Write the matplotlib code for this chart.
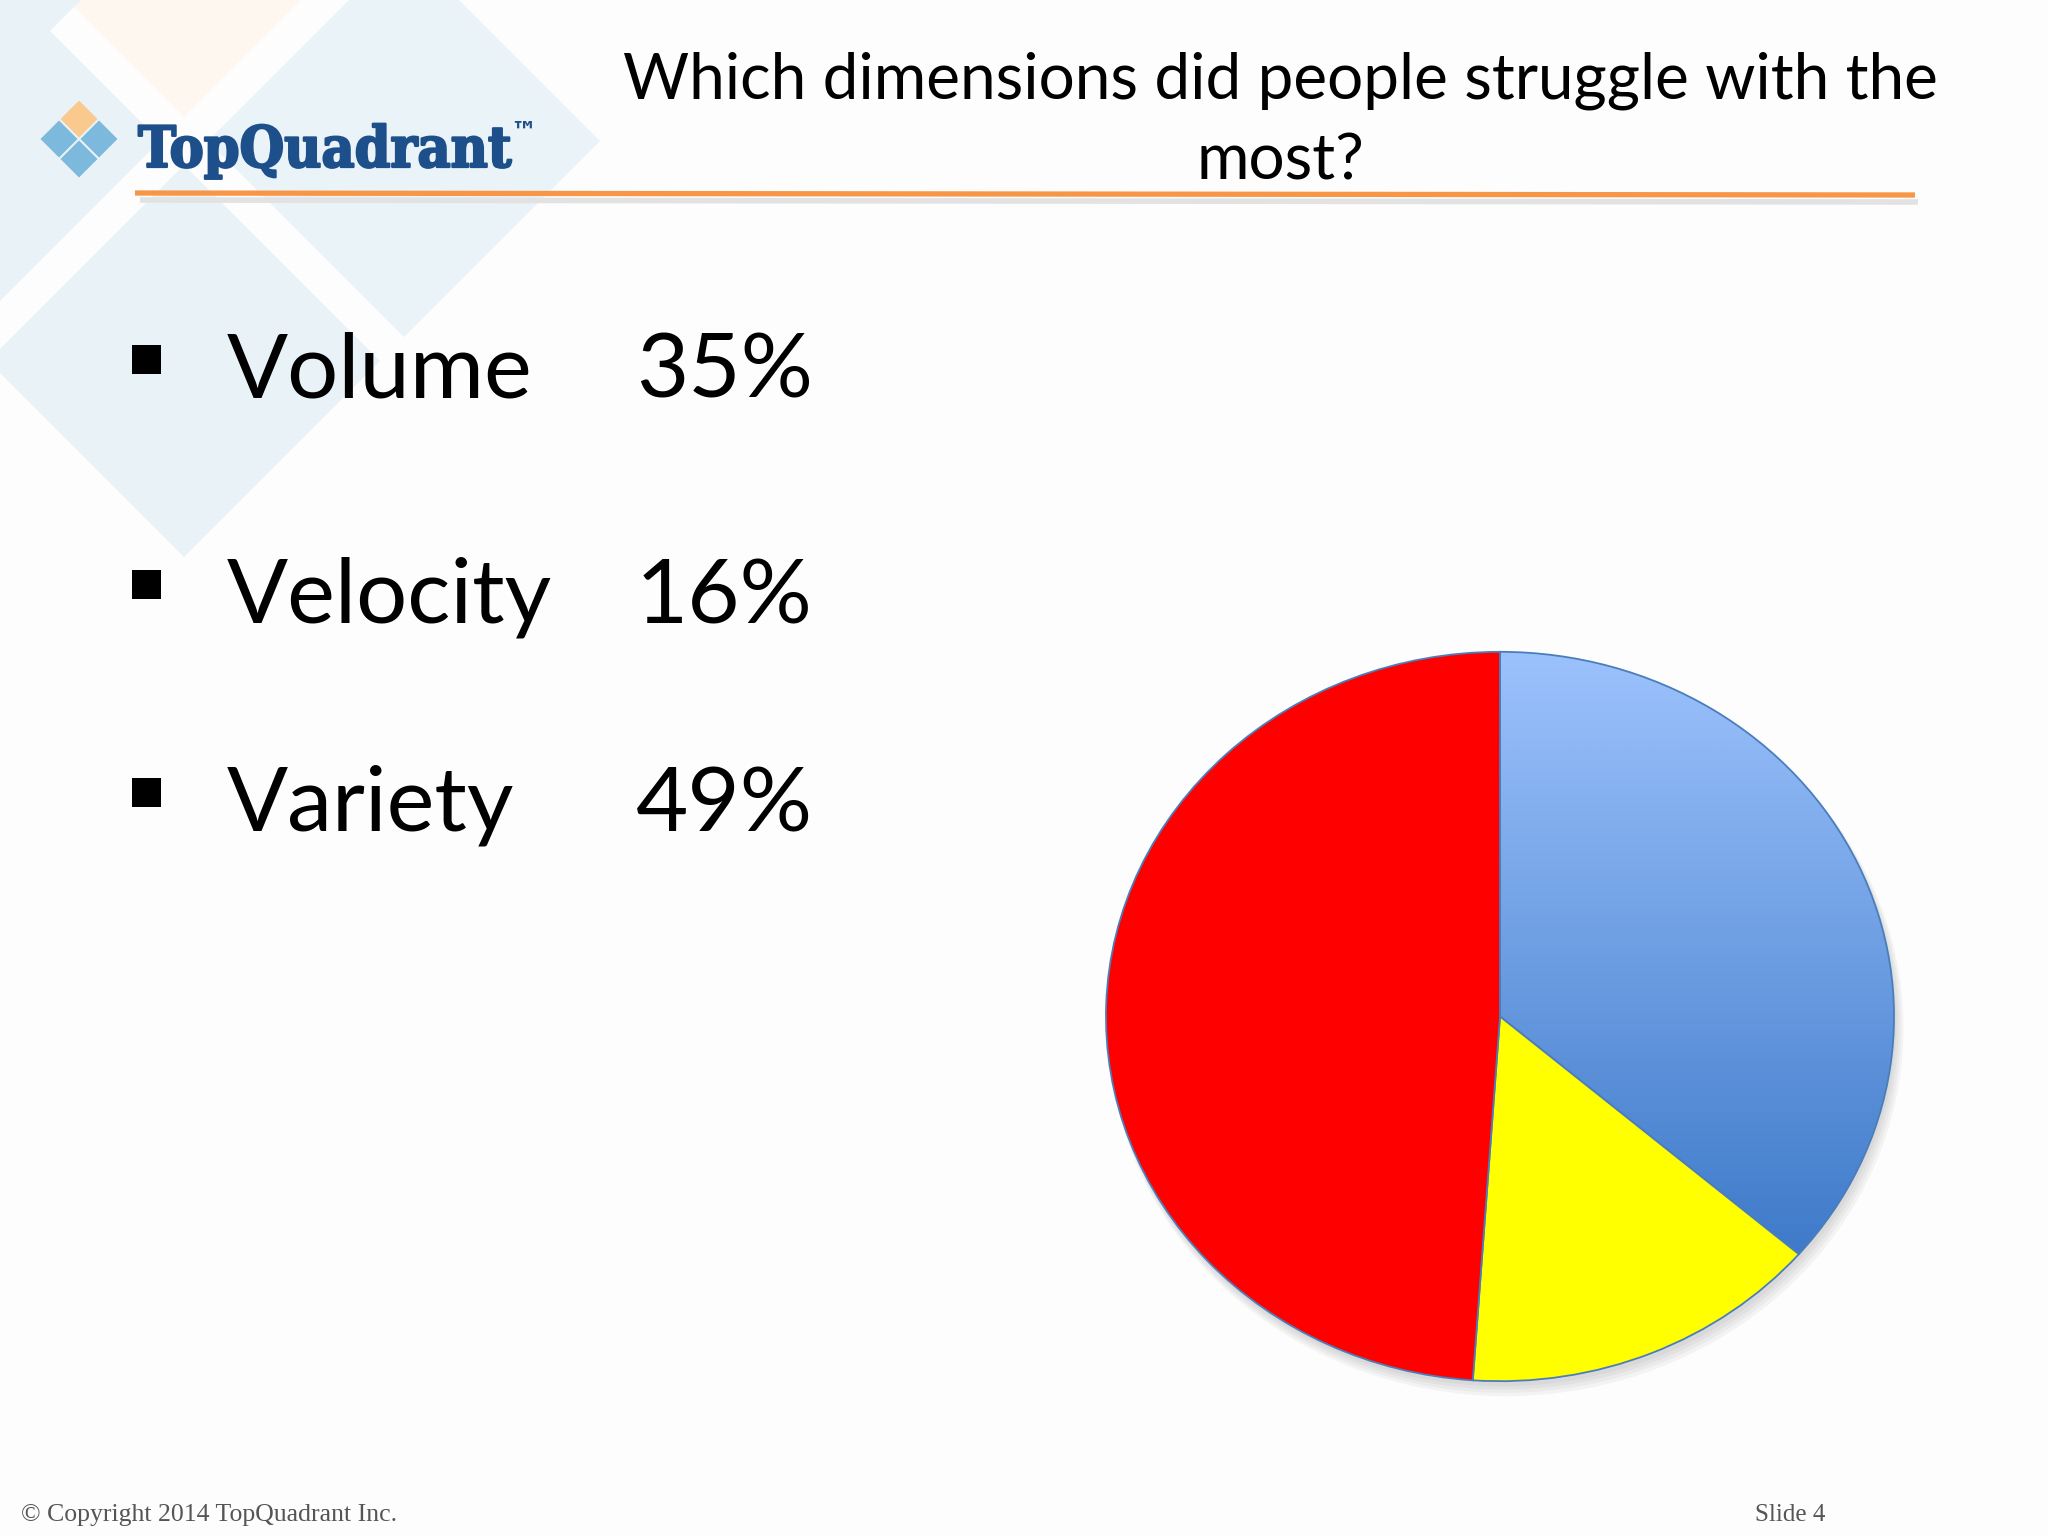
"""Slide 4: which of the three big-data dimensions people struggled with most."""

import matplotlib

matplotlib.use("Agg")
import matplotlib.patheffects as pe
import matplotlib.pyplot as plt
import numpy as np
from matplotlib.colors import LinearSegmentedColormap
from matplotlib.patches import Circle, Polygon, Rectangle

# survey results as listed on the slide
labels = ["Volume", "Velocity", "Variety"]
pct_labels = ["35%", "16%", "49%"]
# slice sizes as drawn in the pie
pie_shares = [36.3, 14.8, 48.9]
colors = ["#6E9BE3", "#FFFF00", "#FF0000"]

title_lines = ["Which dimensions did people struggle with the", "most?"]
footer_left = "\u00a9 Copyright 2014 TopQuadrant Inc."
footer_right = "Slide 4"

W, H = 2048, 1536
fig = plt.figure(figsize=(W / 100, H / 100), dpi=100, facecolor="#FEFDFE")

# full-figure axes in pixel units for the slide decoration
bg = fig.add_axes([0, 0, 1, 1], zorder=0)
bg.set_xlim(0, W)
bg.set_ylim(H, 0)
bg.axis("off")


def diamond(cx, cy, h, **kw):
    return Polygon([(cx, cy - h), (cx + h, cy), (cx, cy + h), (cx - h, cy)], closed=True, **kw)


# faded quadrant motif in the top-left corner
cx, cy, s, h = 184, 141, 220, 196
for dx, dy, col in [(0, -1, "#FDF7EF"), (-1, 0, "#E9F3F7"), (1, 0, "#EAF3F7"), (0, 1, "#E9F3F7"),
                    (-1, -1, "#E9F3F7")]:
    bg.add_patch(diamond(cx + dx * s, cy + dy * s, h, fc=col, ec="none", zorder=0))

# logo
lx, ly, ls = 79, 139, 20
for dx, dy, col in [(0, -1, "#F9C98E"), (-1, 0, "#7DB8DD"), (1, 0, "#7DB8DD"), (0, 1, "#7DB8DD")]:
    bg.add_patch(diamond(lx + dx * ls, ly + dy * ls, ls - 1.5, fc=col, ec="none", zorder=2))
bg.text(138, 167, "TopQuadrant", fontsize=41, fontweight="bold", family="DejaVu Serif",
        fontstretch="condensed", color="#1D4F8B", va="baseline", ha="left", zorder=3,
        path_effects=[pe.withStroke(linewidth=1.6, foreground="#1D4F8B")])
bg.text(510, 140, "\u2122", fontsize=19, family="DejaVu Sans", fontweight="bold",
        color="#1D4F8B", va="baseline", ha="left", zorder=3)

# orange rule under the header
bg.plot([140, 1918], [200, 202], color="#E2E2E2", lw=4, solid_capstyle="butt", zorder=1)
bg.plot([135, 1915], [193, 195], color="#F79646", lw=3.8, solid_capstyle="butt", zorder=2)

for line, yb in zip(title_lines, [98, 180]):
    bg.text(1280, yb, line, fontsize=46, family="Lato", color="black",
            ha="center", va="baseline", zorder=3)

# bullet list
baselines = [398, 623, 831]
for lab, pct, yb in zip(labels, pct_labels, baselines):
    bg.add_patch(Rectangle((132, yb - 53), 29, 29, fc="black", ec="none", zorder=3))
    bg.text(227, yb, lab, fontsize=65, family="Lato", color="black", va="baseline", ha="left")
    bg.text(636, yb, pct, fontsize=65, family="Lato", color="black", va="baseline", ha="left")

bg.text(21, 1521, footer_left, fontsize=18.5, family="Liberation Serif", color="#555555",
        va="baseline", ha="left")
bg.text(1755, 1521, footer_right, fontsize=18, family="Liberation Serif", color="#555555",
        va="baseline", ha="left")

# pie chart
x0, x1, y0, y1 = 1104, 1896, 650, 1383
ax = fig.add_axes([x0 / W, 1 - y1 / H, (x1 - x0) / W, (y1 - y0) / H], zorder=2)
ax.patch.set_alpha(0)

# soft drop shadow
for i in range(4):
    ax.add_patch(Circle((0.006 + 0.003 * i, -0.014 - 0.006 * i), 1.0 + 0.003 * i, fc="#606060",
                        alpha=0.06, ec="none", zorder=0, clip_on=False))

wedges, _ = ax.pie(pie_shares, colors=colors, startangle=90, counterclock=False, radius=1,
                   wedgeprops=dict(edgecolor="#4A7EBB", linewidth=1.3))
for w in wedges:
    w.set_zorder(2)

# blue gradient for the first slice
blue = wedges[0]
blue.set_facecolor("none")
cmap = LinearSegmentedColormap.from_list("vol", ["#9CC2FC", "#3E7AC9"])
grad = np.linspace(0, 1, 256).reshape(-1, 1)
im = ax.imshow(grad, cmap=cmap, extent=(0, 1.0, -0.66, 1.0), origin="upper",
               aspect="auto", zorder=1.5, interpolation="bicubic")
im.set_clip_path(blue)

ax.set_aspect("auto")
ax.set_xlim(-1.005, 1.005)
ax.set_ylim(-1.005, 1.005)
ax.axis("off")

fig.savefig("out.png", dpi=100, facecolor=fig.get_facecolor())
